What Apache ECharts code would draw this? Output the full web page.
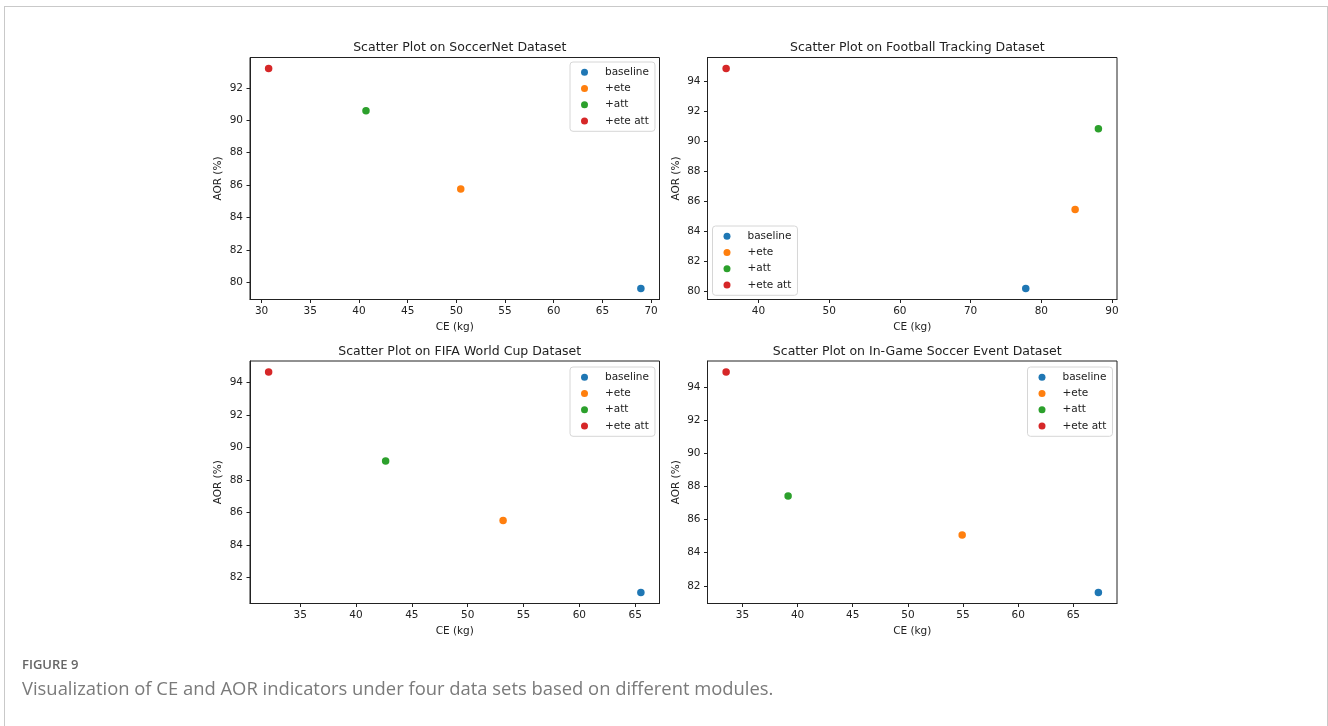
<!DOCTYPE html>
<html>
<head>
<meta charset="utf-8">
<script src="https://cdn.jsdelivr.net/npm/echarts@6/dist/echarts.min.js"></script>
<style>
  html, body { margin: 0; padding: 0; background: #fff; }
  #frame { position: absolute; left: 4px; top: 6px; width: 1322px; height: 760px;
           border-top: 1px solid #c9c9c9; border-left: 1px solid #c9c9c9; border-right: 1px solid #c9c9c9; }
  #chart { position: absolute; left: 0; top: 0; width: 1328px; height: 726px; }
</style>
</head>
<body>
<div id="frame"></div>
<div id="chart"></div>
<script>
// ---- data ----
const seriesNames = ['baseline', '+ete', '+att', '+ete att'];
const seriesColors = ['#1f77b4', '#ff7f0e', '#2ca02c', '#d62728'];
const panelTitles = [
  'Scatter Plot on SoccerNet Dataset',
  'Scatter Plot on Football Tracking Dataset',
  'Scatter Plot on FIFA World Cup Dataset',
  'Scatter Plot on In-Game Soccer Event Dataset'
];
// CE (kg) per module [baseline, +ete, +att, +ete att]
const ceSoccerNet  = [68.95, 50.45, 40.72, 30.72];
const ceTracking   = [77.80, 84.78, 88.07, 35.43];
const ceWorldCup   = [65.51, 53.17, 42.65, 32.17];
const ceInGame     = [67.27, 54.92, 39.14, 33.52];
// AOR (%) per module [baseline, +ete, +att, +ete att]
const aorSoccerNet = [79.63, 85.76, 90.58, 93.19];
const aorTracking  = [80.16, 85.43, 90.83, 94.85];
const aorWorldCup  = [81.08, 85.51, 89.16, 94.63];
const aorInGame    = [81.60, 85.07, 87.41, 94.89];
// tick labels
const xTicksSoccerNet = [30, 35, 40, 45, 50, 55, 60, 65, 70];
const yTicksSoccerNet = [80, 82, 84, 86, 88, 90, 92];
const xTicksTracking  = [40, 50, 60, 70, 80, 90];
const yTicksTracking  = [80, 82, 84, 86, 88, 90, 92, 94];
const xTicksWorldCup  = [35, 40, 45, 50, 55, 60, 65];
const yTicksWorldCup  = [82, 84, 86, 88, 90, 92, 94];
const xTicksInGame    = [35, 40, 45, 50, 55, 60, 65];
const yTicksInGame    = [82, 84, 86, 88, 90, 92, 94];
const xAxisName = 'CE (kg)';
const yAxisName = 'AOR (%)';
const figureLabel = 'FIGURE 9';
const figureCaption = 'Visualization of CE and AOR indicators under four data sets based on different modules.';

// ---- layout ----
const panels = [
  { x: ceSoccerNet, y: aorSoccerNet, xt: xTicksSoccerNet, yt: yTicksSoccerNet,
    grid: { left: 250, top: 57.5, width: 409.5, height: 242 }, legend: { left: 570, top: 62 } },
  { x: ceTracking, y: aorTracking, xt: xTicksTracking, yt: yTicksTracking,
    grid: { left: 707.5, top: 57.5, width: 409.5, height: 242 }, legend: { left: 712.5, top: 226 } },
  { x: ceWorldCup, y: aorWorldCup, xt: xTicksWorldCup, yt: yTicksWorldCup,
    grid: { left: 250, top: 361, width: 409.5, height: 242.5 }, legend: { left: 570, top: 367 } },
  { x: ceInGame, y: aorInGame, xt: xTicksInGame, yt: yTicksInGame,
    grid: { left: 707.5, top: 361, width: 409.5, height: 242.5 }, legend: { left: 1027.5, top: 367 } }
];

function pad(arr) {
  const mn = Math.min.apply(null, arr), mx = Math.max.apply(null, arr);
  const r = mx - mn;
  return [mn - 0.05 * r, mx + 0.05 * r];
}

const FONT = 'DejaVu Sans';
const TXT = '#222';
const option = {
  animation: false,
  backgroundColor: 'transparent',
  textStyle: { fontFamily: FONT },
  title: [], grid: [], xAxis: [], yAxis: [], legend: [], series: [],
  graphic: [
    { type: 'text', left: 22, top: 659, style: { text: figureLabel, font: '600 13px "Open Sans"', fill: '#666' } },
    { type: 'text', left: 22, top: 681, style: { text: figureCaption, font: '18.4px "Open Sans"', fill: '#7a7a7a' } }
  ]
};

panels.forEach((p, i) => {
  const xr = pad(p.x), yr = pad(p.y);
  option.grid.push(Object.assign({ show: true, borderColor: '#222', borderWidth: 1, backgroundColor: 'transparent' }, p.grid));
  option.title.push({
    text: panelTitles[i],
    left: p.grid.left + p.grid.width / 2, top: p.grid.top - 21, textAlign: 'center',
    textStyle: { fontFamily: FONT, fontSize: 12.5, fontWeight: 'normal', color: TXT }
  });
  option.xAxis.push({
    type: 'value', gridIndex: i, min: xr[0], max: xr[1],
    name: xAxisName, nameLocation: 'middle', nameGap: 22,
    nameTextStyle: { fontFamily: FONT, fontSize: 10.5, color: TXT },
    axisLine: { show: true, lineStyle: { color: '#222', width: 1 } },
    axisTick: { show: true, length: 3.5, lineStyle: { color: '#222' }, customValues: p.xt },
    axisLabel: { fontFamily: FONT, fontSize: 10.5, color: TXT, margin: 6, customValues: p.xt },
    splitLine: { show: false }
  });
  option.yAxis.push({
    type: 'value', gridIndex: i, min: yr[0], max: yr[1],
    name: yAxisName, nameLocation: 'middle', nameGap: 26, nameRotate: 90,
    nameTextStyle: { fontFamily: FONT, fontSize: 10.5, color: TXT },
    axisLine: { show: true, lineStyle: { color: '#222', width: 1 } },
    axisTick: { show: true, length: 3.5, lineStyle: { color: '#222' }, customValues: p.yt },
    axisLabel: { fontFamily: FONT, fontSize: 10.5, color: TXT, margin: 7, customValues: p.yt },
    splitLine: { show: false }
  });
  option.legend.push({
    data: seriesNames, orient: 'vertical', left: p.legend.left, top: p.legend.top,
    icon: 'circle', itemWidth: 7, itemHeight: 7, itemGap: 3.5,
    padding: [4, 6, 4, 11], backgroundColor: 'rgba(255,255,255,0.8)',
    borderColor: '#d6d6d6', borderWidth: 1, borderRadius: 3,
    textStyle: { fontFamily: FONT, fontSize: 10.5, color: TXT, lineHeight: 12.7, padding: [0, 0, 0, 12] }
  });
  seriesNames.forEach((n, k) => {
    option.series.push({
      type: 'scatter', name: n, xAxisIndex: i, yAxisIndex: i,
      symbolSize: 7.5, itemStyle: { color: seriesColors[k], opacity: 1 },
      data: [[p.x[k], p.y[k]]]
    });
  });
});

const chart = echarts.init(document.getElementById('chart'), null, { renderer: 'canvas' });
chart.setOption(option);
</script>
</body>
</html>
